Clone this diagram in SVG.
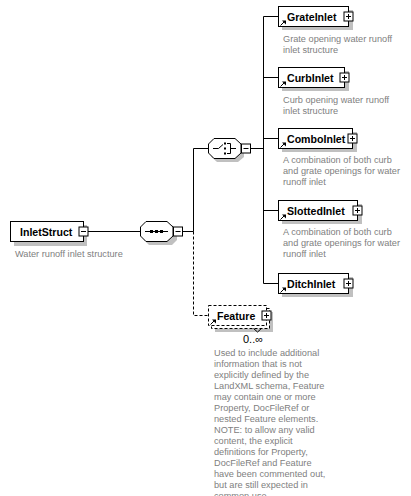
<svg xmlns="http://www.w3.org/2000/svg" xmlns:xlink="http://www.w3.org/1999/xlink" width="411" height="496" viewBox="0 0 411 496">
<style>
.bg{fill:#fff}
.box{fill:#fff;stroke:#000;stroke-width:1}
.dbox{fill:#fff;stroke:#000;stroke-width:1;stroke-dasharray:3,2}
.sh{fill:#c0c0c0}
.ln{fill:none;stroke:#000;stroke-width:1}
.dl{fill:none;stroke:#000;stroke-width:1;stroke-dasharray:3,2}
.nm{font-family:"Liberation Sans",Arial,sans-serif;font-weight:bold;font-size:10.6px;fill:#000}
.ds{font-family:"Liberation Sans",Arial,sans-serif;font-size:9.2px;fill:#808080}
.oc{font-family:"Liberation Sans",Arial,sans-serif;font-size:11px;fill:#000}
</style>
<defs>
<g id="plus"><rect x="0.5" y="0.5" width="9" height="9" class="box"/><path d="M2.5,5 H7.5 M5,2.5 V7.5" class="ln"/></g>
<g id="minus"><rect x="0.5" y="0.5" width="9" height="9" class="box"/><path d="M2.5,5 H7.5" class="ln"/></g>
<g id="ref"><path d="M0.5,6.5 L4,3" class="ln"/><path d="M2,1.5 L6,1.5 L6,5.5 Z" fill="#000"/></g>
</defs>
<rect width="411" height="496" class="bg"/>

<g id="connectors">
<path d="M88,231.5 H140" class="ln"/>
<path d="M183,231.5 H193.5 M193.5,231.5 V148.5 H208" class="ln"/>
<path d="M193.5,231.5 V315.5 H208" class="dl"/>
<path d="M251,148.5 H263.5 M263.5,16.5 V283.5 M263.5,16.5 H278 M263.5,77.5 H278 M263.5,138.5 H278 M263.5,210.5 H278 M263.5,283.5 H278" class="ln"/>
</g>

<g id="InletStruct">
<rect x="14" y="225" width="73" height="21" class="sh"/>
<rect x="10.5" y="221.5" width="73" height="20" class="box"/>
<text x="20" y="235.5" class="nm">InletStruct</text>
<use xlink:href="#minus" x="78.5" y="226.5"/>
<text x="15" y="257" class="ds">Water runoff inlet structure</text>
</g>

<g id="sequence">
<path d="M149,225 H172 L177,230 V240 L172,245 H149 L144,240 V230 Z" class="sh"/>
<path d="M146,221.5 H167 L173,227 V236 L167,241.5 H146 L140.5,236 V227 Z" class="box"/>
<path d="M145,231.5 H168" class="ln"/>
<rect x="150" y="230" width="3" height="3" fill="#000"/>
<rect x="155" y="230" width="3" height="3" fill="#000"/>
<rect x="160" y="230" width="3" height="3" fill="#000"/>
<use xlink:href="#minus" x="173" y="226.5"/>
</g>

<g id="choice">
<path d="M217,142 H238 L244,147.5 V157 L238,162 H217 L211.5,157 V147.5 Z" class="sh"/>
<path d="M214,138.5 H235 L241,144 V153 L235,158.5 H214 L208.5,153 V144 Z" class="box"/>
<path d="M213,148.5 H218.5 L223,144.5 M227,143.5 H230.5 V153.5 H227 M230.5,148.5 H236" class="ln"/>
<rect x="224" y="142.5" width="2" height="2" fill="#000"/>
<rect x="224" y="147.5" width="2" height="2" fill="#000"/>
<rect x="224" y="152.5" width="2" height="2" fill="#000"/>
<use xlink:href="#minus" x="241" y="143.5"/>
</g>

<g id="GrateInlet">
<rect x="282" y="10" width="71" height="20" class="sh"/>
<rect x="278.5" y="6.5" width="70" height="20" class="box"/>
<use xlink:href="#ref" x="280" y="19"/>
<text x="287" y="20.5" class="nm">GrateInlet</text>
<use xlink:href="#plus" x="343.5" y="11.5"/>
<text x="283" y="42" class="ds">Grate opening water runoff</text>
<text x="283" y="53" class="ds">inlet structure</text>
</g>

<g id="CurbInlet">
<rect x="282" y="71" width="67" height="20" class="sh"/>
<rect x="278.5" y="67.5" width="66" height="20" class="box"/>
<use xlink:href="#ref" x="280" y="80"/>
<text x="287" y="81.5" class="nm">CurbInlet</text>
<use xlink:href="#plus" x="339.5" y="72.5"/>
<text x="283" y="103" class="ds">Curb opening water runoff</text>
<text x="283" y="114" class="ds">inlet structure</text>
</g>

<g id="ComboInlet">
<rect x="282" y="132" width="75" height="20" class="sh"/>
<rect x="278.5" y="128.5" width="74" height="20" class="box"/>
<use xlink:href="#ref" x="280" y="141"/>
<text x="287" y="142.5" class="nm">ComboInlet</text>
<use xlink:href="#plus" x="347.5" y="133.5"/>
<text x="283" y="163" class="ds">A combination of both curb</text>
<text x="283" y="174" class="ds">and grate openings for water</text>
<text x="283" y="185" class="ds">runoff inlet</text>
</g>

<g id="SlottedInlet">
<rect x="282" y="204" width="80" height="20" class="sh"/>
<rect x="278.5" y="200.5" width="79" height="20" class="box"/>
<use xlink:href="#ref" x="280" y="213"/>
<text x="287" y="214.5" class="nm">SlottedInlet</text>
<use xlink:href="#plus" x="352.5" y="205.5"/>
<text x="283" y="235" class="ds">A combination of both curb</text>
<text x="283" y="246" class="ds">and grate openings for water</text>
<text x="283" y="257" class="ds">runoff inlet</text>
</g>

<g id="DitchInlet">
<rect x="282" y="277" width="71" height="20" class="sh"/>
<rect x="278.5" y="273.5" width="70" height="20" class="box"/>
<use xlink:href="#ref" x="280" y="286"/>
<text x="287" y="287.5" class="nm">DitchInlet</text>
<use xlink:href="#plus" x="343.5" y="278.5"/>
</g>

<g id="Feature">
<rect x="215" y="312" width="58" height="20" class="sh"/>
<rect x="211.5" y="308.5" width="58" height="20" class="dbox"/>
<rect x="208.5" y="305.5" width="58" height="20" class="dbox"/>
<path d="M253.5,328.5 L257.5,332 L261.5,328.5" class="ln"/>
<use xlink:href="#ref" x="210" y="318"/>
<text x="217" y="319.5" class="nm">Feature</text>
<use xlink:href="#plus" x="261.5" y="310.5"/>
<text x="253" y="343" class="oc" text-anchor="middle">0..∞</text>
<text class="ds">
<tspan x="214" y="356">Used to include additional</tspan>
<tspan x="214" y="367">information that is not</tspan>
<tspan x="214" y="378">explicitly defined by the</tspan>
<tspan x="214" y="389">LandXML schema, Feature</tspan>
<tspan x="214" y="400">may contain one or more</tspan>
<tspan x="214" y="411">Property, DocFileRef or</tspan>
<tspan x="214" y="422">nested Feature elements.</tspan>
<tspan x="214" y="433">NOTE: to allow any valid</tspan>
<tspan x="214" y="444">content, the explicit</tspan>
<tspan x="214" y="455">definitions for Property,</tspan>
<tspan x="214" y="466">DocFileRef and Feature</tspan>
<tspan x="214" y="477">have been commented out,</tspan>
<tspan x="214" y="488">but are still expected in</tspan>
<tspan x="214" y="499">common use.</tspan>
</text>
</g>
</svg>
